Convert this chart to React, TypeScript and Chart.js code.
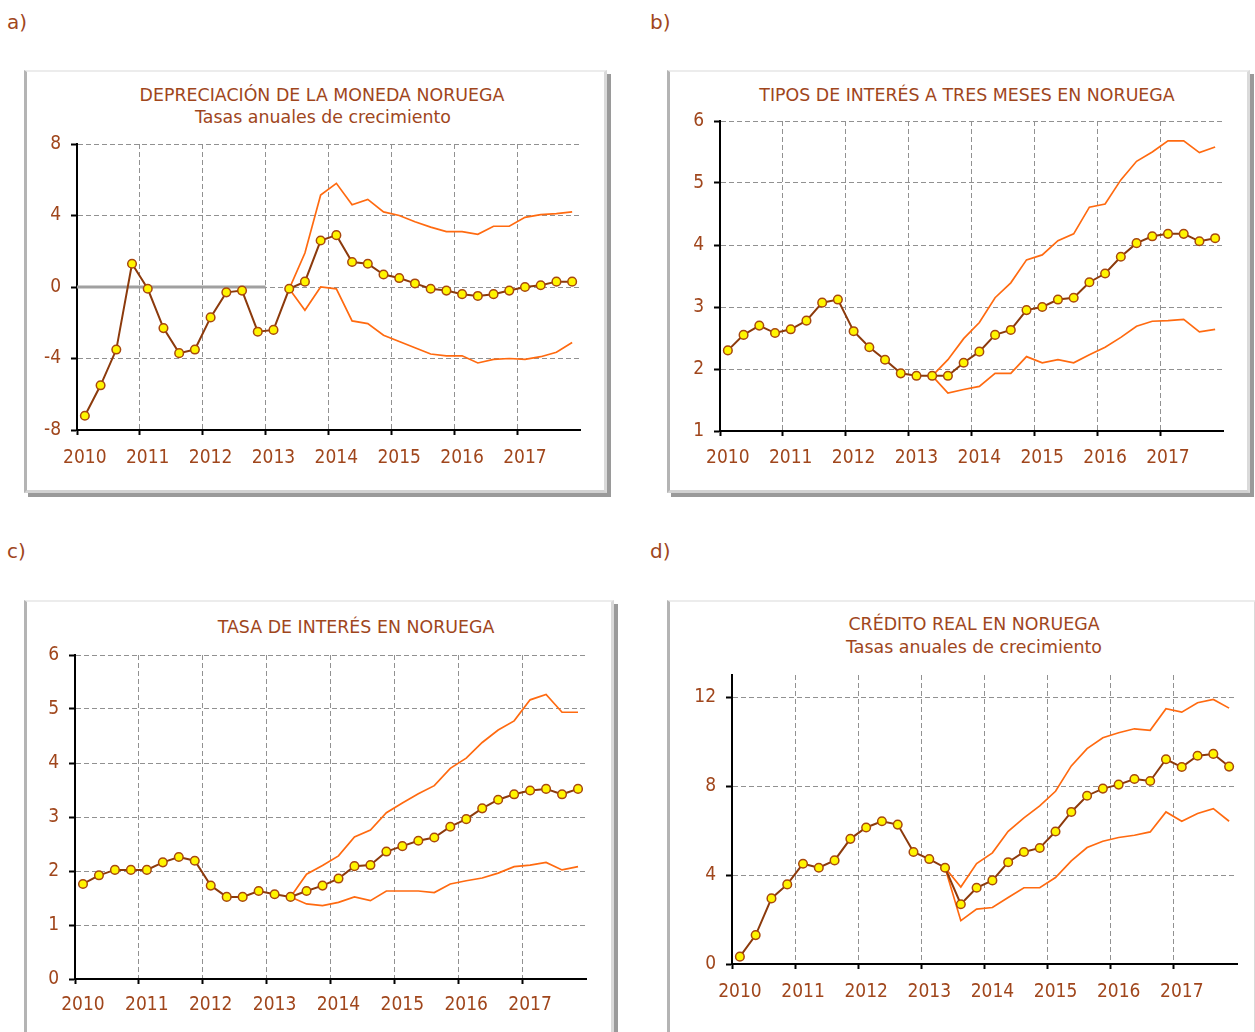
import React, { useEffect, useRef } from 'react';
import { Chart, registerables } from 'chart.js';

Chart.register(...registerables);

// ---------- data ----------
const YEARS = ['2010', '2011', '2012', '2013', '2014', '2015', '2016', '2017'];
const QUARTERS = YEARS.flatMap((y) => ['T1', 'T2', 'T3', 'T4'].map((q) => `${y} ${q}`));
const N = null;

// a) Depreciación de la moneda noruega
const DEP_CENTRAL = [-7.2, -5.5, -3.5, 1.3, -0.1, -2.3, -3.7, -3.5, -1.7, -0.3, -0.2, -2.5, -2.4, -0.1, 0.3, 2.6,
  2.9, 1.4, 1.3, 0.7, 0.5, 0.2, -0.1, -0.2, -0.4, -0.5, -0.4, -0.2, 0.0, 0.1, 0.3, 0.3];
const DEP_UPPER = [N, N, N, N, N, N, N, N, N, N, N, N, N, -0.1, 1.9, 5.15,
  5.8, 4.6, 4.9, 4.2, 4.0, 3.65, 3.35, 3.1, 3.1, 2.95, 3.4, 3.4, 3.9, 4.05, 4.1, 4.2];
const DEP_LOWER = [N, N, N, N, N, N, N, N, N, N, N, N, N, -0.1, -1.3, 0.0,
  -0.1, -1.9, -2.05, -2.7, -3.05, -3.4, -3.75, -3.85, -3.85, -4.25, -4.05, -4.0, -4.05, -3.9, -3.65, -3.1];
const DEP_Y_TICKS = [-8, -4, 0, 4, 8];

// b) Tipos de interés a tres meses
const TIP_CENTRAL = [2.30, 2.55, 2.70, 2.58, 2.64, 2.78, 3.07, 3.12, 2.61, 2.35, 2.15, 1.93, 1.89, 1.89, 1.89, 2.10,
  2.28, 2.55, 2.63, 2.95, 3.00, 3.12, 3.15, 3.40, 3.54, 3.81, 4.03, 4.14, 4.18, 4.18, 4.06, 4.11];
const TIP_UPPER = [N, N, N, N, N, N, N, N, N, N, N, N, N, 1.89, 2.15, 2.49,
  2.75, 3.15, 3.39, 3.76, 3.84, 4.07, 4.18, 4.61, 4.66, 5.05, 5.35, 5.50, 5.68, 5.68, 5.49, 5.58];
const TIP_LOWER = [N, N, N, N, N, N, N, N, N, N, N, N, N, 1.89, 1.61, 1.67,
  1.72, 1.93, 1.93, 2.20, 2.10, 2.15, 2.10, 2.23, 2.35, 2.51, 2.69, 2.77, 2.78, 2.80, 2.60, 2.64];
const TIP_Y_TICKS = [1, 2, 3, 4, 5, 6];

// c) Tasa de interés
const TASA_CENTRAL = [1.76, 1.92, 2.02, 2.02, 2.02, 2.16, 2.26, 2.19, 1.73, 1.52, 1.52, 1.63, 1.57, 1.52, 1.63, 1.73,
  1.86, 2.09, 2.11, 2.36, 2.46, 2.56, 2.62, 2.82, 2.96, 3.16, 3.32, 3.42, 3.49, 3.52, 3.42, 3.52];
const TASA_UPPER = [N, N, N, N, N, N, N, N, N, N, N, N, N, 1.52, 1.94, 2.10,
  2.28, 2.63, 2.76, 3.08, 3.26, 3.43, 3.58, 3.90, 4.09, 4.38, 4.61, 4.78, 5.17, 5.27, 4.94, 4.94];
const TASA_LOWER = [N, N, N, N, N, N, N, N, N, N, N, N, N, 1.52, 1.39, 1.36,
  1.42, 1.52, 1.45, 1.63, 1.63, 1.63, 1.60, 1.76, 1.82, 1.87, 1.96, 2.08, 2.11, 2.16, 2.02, 2.08];
const TASA_Y_TICKS = [0, 1, 2, 3, 4, 5, 6];

// d) Crédito real
const CRED_CENTRAL = [0.33, 1.30, 2.95, 3.58, 4.51, 4.33, 4.66, 5.63, 6.14, 6.42, 6.27, 5.04, 4.72, 4.33, 2.69, 3.43,
  3.76, 4.58, 5.04, 5.22, 5.96, 6.84, 7.57, 7.89, 8.07, 8.32, 8.23, 9.21, 8.86, 9.37, 9.45, 8.88];
const CRED_UPPER = [N, N, N, N, N, N, N, N, N, N, N, N, N, 4.33, 3.46, 4.52,
  5.0, 5.97, 6.57, 7.11, 7.77, 8.91, 9.69, 10.18, 10.40, 10.58, 10.51, 11.48, 11.33, 11.75, 11.90, 11.51];
const CRED_LOWER = [N, N, N, N, N, N, N, N, N, N, N, N, N, 4.33, 1.95, 2.47,
  2.54, 2.99, 3.43, 3.43, 3.89, 4.64, 5.24, 5.52, 5.69, 5.79, 5.94, 6.84, 6.42, 6.77, 6.99, 6.42];
const CRED_Y_TICKS = [0, 4, 8, 12];

// ---------- styles ----------
const TEXT = '#A0461C';
const MAIN = '#8C3A0C';
const BAND = '#FF6A10';
const MARKER_FILL = '#FFF500';
const MARKER_EDGE = '#A8480E';
const GRID = '#919191';
const FONT = '"DejaVu Sans", Verdana, sans-serif';
const TICK_FONT = '"DejaVu Sans Condensed", "DejaVu Sans", sans-serif';

type Spec = {
  key: string;
  letter: string;
  letterPos: [number, number];
  frame: { left: number; top: number; width: number; height: number };
  titles: { text: string; x: number; y: number }[];
  canvas: { left: number; top: number; width: number; height: number };
  padding: { left: number; right: number; top: number; bottom: number };
  xPad: number;
  central: (number | null)[];
  upper: (number | null)[];
  lower: (number | null)[];
  yTicks: number[];
  yMin: number;
  yMax: number;
  zeroBand?: boolean;
};

const SPECS: Spec[] = [
  {
    key: 'a', letter: 'a)', letterPos: [7, 12],
    frame: { left: 24, top: 70, width: 583, height: 423 },
    titles: [
      { text: 'DEPRECIACIÓN DE LA MONEDA NORUEGA', x: 322, y: 95 },
      { text: 'Tasas anuales de crecimiento', x: 323, y: 117 },
    ],
    canvas: { left: 27, top: 122, width: 580, height: 350 },
    padding: { left: 6, right: 27, top: 22, bottom: 6 },
    xPad: 12,
    central: DEP_CENTRAL, upper: DEP_UPPER, lower: DEP_LOWER,
    yTicks: DEP_Y_TICKS, yMin: -8, yMax: 8, zeroBand: true,
  },
  {
    key: 'b', letter: 'b)', letterPos: [650, 12],
    frame: { left: 667, top: 70, width: 583, height: 423 },
    titles: [{ text: 'TIPOS DE INTERÉS A TRES MESES EN NORUEGA', x: 967, y: 95 }],
    canvas: { left: 670, top: 99, width: 580, height: 372 },
    padding: { left: 6, right: 27, top: 22, bottom: 4 },
    xPad: 11,
    central: TIP_CENTRAL, upper: TIP_UPPER, lower: TIP_LOWER,
    yTicks: TIP_Y_TICKS, yMin: 1, yMax: 6,
  },
  {
    key: 'c', letter: 'c)', letterPos: [7, 541],
    frame: { left: 24, top: 600, width: 590, height: 450 },
    titles: [{ text: 'TASA DE INTERÉS EN NORUEGA', x: 356, y: 627 }],
    canvas: { left: 27, top: 633, width: 585, height: 393 },
    padding: { left: 4, right: 26, top: 22, bottom: 11 },
    xPad: 10,
    central: TASA_CENTRAL, upper: TASA_UPPER, lower: TASA_LOWER,
    yTicks: TASA_Y_TICKS, yMin: 0, yMax: 6,
  },
  {
    key: 'd', letter: 'd)', letterPos: [650, 541],
    frame: { left: 667, top: 600, width: 590, height: 450 },
    titles: [
      { text: 'CRÉDITO REAL EN NORUEGA', x: 974, y: 624 },
      { text: 'Tasas anuales de crecimiento', x: 974, y: 647 },
    ],
    canvas: { left: 670, top: 653, width: 582, height: 367 },
    padding: { left: 18, right: 15, top: 22, bottom: 20 },
    xPad: 12,
    central: CRED_CENTRAL, upper: CRED_UPPER, lower: CRED_LOWER,
    yTicks: CRED_Y_TICKS, yMin: 0, yMax: 13,
  },
];

const zeroBandPlugin = {
  id: 'zeroBand',
  beforeDatasetsDraw(chart: any, _args: any, opts: any) {
    if (!opts || !opts.enabled) return;
    const { ctx, chartArea, scales } = chart;
    const y = scales.y.getPixelForValue(0);
    const xEnd = scales.x.getPixelForValue(opts.untilIndex - 0.5);
    ctx.save();
    ctx.strokeStyle = '#a0a0a0';
    ctx.lineWidth = 3;
    ctx.beginPath();
    ctx.moveTo(chartArea.left, y);
    ctx.lineTo(xEnd, y);
    ctx.stroke();
    ctx.restore();
  },
};

function Panel({ spec }: { spec: Spec }) {
  const ref = useRef<HTMLCanvasElement | null>(null);

  useEffect(() => {
    if (!ref.current) return;
    const tickFont = { family: TICK_FONT, size: 19 };
    const chart = new Chart(ref.current, {
      type: 'line',
      data: {
        labels: QUARTERS,
        datasets: [
          {
            data: spec.central,
            borderColor: MAIN,
            borderWidth: 2,
            pointRadius: 4.3,
            pointBackgroundColor: MARKER_FILL,
            pointBorderColor: MARKER_EDGE,
            pointBorderWidth: 1.5,
            tension: 0,
          },
          { data: spec.upper, borderColor: BAND, borderWidth: 1.7, pointRadius: 0, tension: 0 },
          { data: spec.lower, borderColor: BAND, borderWidth: 1.7, pointRadius: 0, tension: 0 },
        ],
      },
      options: {
        responsive: false,
        animation: false,
        devicePixelRatio: 1,
        layout: { padding: spec.padding },
        plugins: {
          legend: { display: false },
          tooltip: { enabled: false },
          title: { display: false },
          zeroBand: { enabled: !!spec.zeroBand, untilIndex: 12 },
        } as any,
        scales: {
          x: {
            type: 'category',
            offset: true,
            grid: {
              offset: true,
              color: (c: any) => (c.index % 4 === 0 ? GRID : 'rgba(0,0,0,0)'),
              tickColor: (c: any) => (c.index % 4 === 0 ? '#000' : 'rgba(0,0,0,0)'),
              tickLength: 5,
              lineWidth: 1,
              tickWidth: 2,
            },
            border: { color: '#000', width: 2, dash: [5, 3] },
            ticks: {
              autoSkip: false,
              maxRotation: 0,
              minRotation: 0,
              padding: spec.xPad,
              color: TEXT,
              font: tickFont,
              callback: (_v: any, i: number) => (i % 4 === 0 ? YEARS[i / 4] : ''),
            },
            afterFit: (s: any) => { s.height = 36; },
          },
          y: {
            min: spec.yMin,
            max: spec.yMax,
            afterBuildTicks: (s: any) => { s.ticks = spec.yTicks.map((v) => ({ value: v })); },
            grid: { color: GRID, tickColor: '#000', tickLength: 6, lineWidth: 1, tickWidth: 2 },
            border: { color: '#000', width: 2, dash: [5, 3] },
            ticks: { color: TEXT, font: tickFont, padding: 10 },
            afterFit: (s: any) => { s.width = 44; },
          },
        },
      } as any,
      plugins: [zeroBandPlugin],
    });
    return () => chart.destroy();
  }, [spec]);

  const f = spec.frame;
  return (
    <>
      <div
        style={{
          position: 'absolute', left: f.left, top: f.top, width: f.width, height: f.height,
          boxSizing: 'border-box', background: '#fff',
          borderLeft: '3px solid #b4b4b4', borderTop: '2px solid #ececec',
          borderRight: '3px solid #dadada', borderBottom: '3px solid #d2d2d2',
          boxShadow: '4px 4px 0 #9a9a9a',
        }}
      />
      <div style={{ position: 'absolute', left: spec.letterPos[0], top: spec.letterPos[1], font: `20px ${FONT}`, color: TEXT, lineHeight: '20px' }}>
        {spec.letter}
      </div>
      {spec.titles.map((t, i) => (
        <div
          key={i}
          style={{
            position: 'absolute', left: t.x, top: t.y - 10, transform: 'translateX(-50%)',
            font: `17.4px ${FONT}`, lineHeight: '20px', color: TEXT, whiteSpace: 'nowrap',
          }}
        >
          {t.text}
        </div>
      ))}
      <canvas
        ref={ref}
        width={spec.canvas.width}
        height={spec.canvas.height}
        style={{ position: 'absolute', left: spec.canvas.left, top: spec.canvas.top, width: spec.canvas.width, height: spec.canvas.height }}
      />
    </>
  );
}

export default function App() {
  return (
    <div style={{ position: 'absolute', left: 0, top: 0, width: 1255, height: 1032, overflow: 'hidden', background: '#fff' }}>
      {SPECS.map((s) => (
        <Panel key={s.key} spec={s} />
      ))}
    </div>
  );
}
